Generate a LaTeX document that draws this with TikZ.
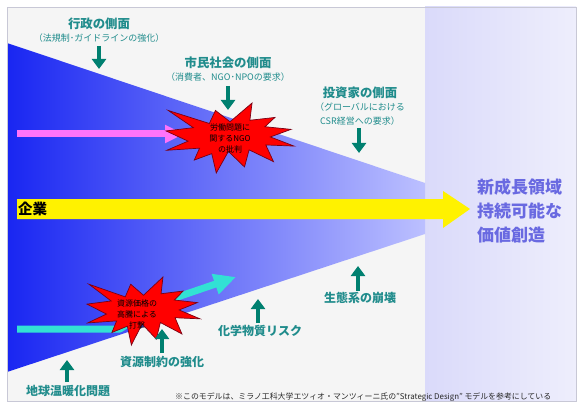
\documentclass[tikz,border=0pt]{standalone}
\usepackage{fontspec}
\setmainfont{Noto Sans CJK JP}
\usetikzlibrary{arrows.meta}
\definecolor{bggray}{RGB}{245,245,245}
\definecolor{lavL}{RGB}{218,218,250}
\definecolor{lavR}{RGB}{238,238,252}
\definecolor{wedgeL}{RGB}{25,38,242}
\definecolor{wedgeR}{RGB}{188,192,255}
\definecolor{framecol}{RGB}{200,200,214}
\definecolor{tealarr}{RGB}{0,128,112}
\definecolor{tealtxt}{RGB}{32,140,140}
\definecolor{pinkarr}{RGB}{255,115,250}
\definecolor{cyanarr}{RGB}{50,225,212}
\definecolor{starred}{RGB}{255,0,0}
\definecolor{stardark}{RGB}{120,0,20}
\definecolor{goaltxt}{RGB}{105,105,225}
\definecolor{notetxt}{RGB}{40,40,40}
\newcommand{\explosionpath}{(50.0,26.85) -- (67.23,0) -- (65.53,24.65) -- (85.09,20.63) -- (77.32,33.87) -- (97.67,37.67) -- (81.51,48.50) -- (100,61.53) -- (77.95,59.92) -- (84.00,83.77) -- (64.91,66.93) -- (61.33,91.38) -- (48.76,69.14) -- (39.28,100) -- (35.72,72.35) -- (22.05,81.56) -- (26.24,64.52) -- (0.63,67.53) -- (17.23,54.51) -- (0,39.88) -- (21.42,35.26) -- (1.71,10.63) -- (33.85,29.26) -- (38.67,10.63) -- cycle}
\begin{document}
\begin{tikzpicture}[x=1pt,y=-1pt,
  headlbl/.style={text=tealtxt, font=\fontsize{12.4}{14}\selectfont\bfseries, inner sep=0pt},
  sublbl/.style={text=tealtxt, font=\fontsize{9}{14}\selectfont, inner sep=0pt, align=center},
  botlbl/.style={text=tealtxt, font=\fontsize{12}{14}\selectfont\bfseries, inner sep=0pt},
  tealarrow/.style={draw=tealarr, line width=4pt, -{Triangle[width=14pt,length=10pt]}},
  startext/.style={text=black, font=\fontsize{8}{11}\selectfont, inner sep=0pt, align=center},
  starshape/.style={fill=starred, draw=stardark, line width=0.7pt, line join=miter}
]
\useasboundingbox (0,0) rectangle (580,406);
\fill[white] (0,0) rectangle (580,406);
% backgrounds
\fill[bggray] (7,7) rectangle (425,401);
\shade[left color=lavL, right color=lavR] (425,7) rectangle (576,401);
\shade[left color=wedgeL, right color=wedgeR] (7,43) -- (425,183) -- (425,234) -- (7,372) -- cycle;
\draw[framecol, line width=0.8pt] (7,7) rectangle (576,401);

% yellow main arrow
\coordinate (ys) at (17,209);
\coordinate (ye) at (470,209);
\fill[yellow] (17,199) -- (443,199) -- (443,191) -- (ye) -- (443,228) -- (443,219) -- (17,219) -- cycle;
\node[font=\fontsize{14.5}{16}\selectfont\bfseries, text=black, anchor=west, inner sep=0pt] (kigyo) at (18,209) {企業};

% pink arrow
\coordinate (ps) at (17,134);
\coordinate (pe) at (184,134);
\draw[pinkarr, line width=7pt, -{Triangle[width=17pt,length=19pt]}] (ps) -- (pe);

% cyan arrow
\coordinate (cs) at (17,329);
\coordinate (cb) at (120,329);
\coordinate (cm) at (160,303);
\coordinate (ce) at (236,277);
\draw[cyanarr, line width=7pt, line join=round, -{Triangle[width=20pt,length=22pt]}] (cs) -- (cb) -- (cm) -- (ce);

% star 1
\begin{scope}[shift={(166,103)}, xscale=1.28, yscale=0.70]
  \draw[starshape] \explosionpath;
\end{scope}
\node[startext] (star1) at (230,138) {労働問題に\\関するNGO\\の批判};

% star 2
\begin{scope}[shift={(87,277)}, xscale=1.13, yscale=0.68]
  \draw[starshape] \explosionpath;
\end{scope}
\node[startext] (star2) at (137,314) {資源価格の\\高騰による\\打撃};

% top labels
\node[headlbl] (gyosei) at (99,24) {行政の側面};
\node[sublbl] (gyoseis) at (99,38) {（法規制･ガイドラインの強化）};
\coordinate (a1s) at (99,46);
\coordinate (a1e) at (99,69);
\draw[tealarrow] (a1s) -- (a1e);

\node[headlbl] (shimin) at (228,63) {市民社会の側面};
\node[sublbl] (shimins) at (228,77) {（消費者、NGO･NPOの要求）};
\coordinate (a2s) at (228,86);
\coordinate (a2e) at (228,110);
\draw[tealarrow] (a2s) -- (a2e);

\node[headlbl] (toshi) at (360,93) {投資家の側面};
\node[sublbl] (toshis) at (360,114) {（グローバルにおける\\CSR経営への要求）};
\coordinate (a3s) at (359,128);
\coordinate (a3e) at (359,153);
\draw[tealarrow] (a3s) -- (a3e);

% bottom labels
\node[botlbl] (ondan) at (68,391) {地球温暖化問題};
\coordinate (b1s) at (67,382);
\coordinate (b1e) at (67,360);
\draw[tealarrow] (b1s) -- (b1e);

\node[botlbl] (shigen) at (162,362) {資源制約の強化};
\coordinate (b2s) at (162,353);
\coordinate (b2e) at (162,329);
\draw[tealarrow] (b2s) -- (b2e);

\node[botlbl] (kagaku) at (260,331) {化学物質リスク};
\coordinate (b3s) at (258,323);
\coordinate (b3e) at (258,299);
\draw[tealarrow] (b3s) -- (b3e);

\node[botlbl] (seitai) at (360,298) {生態系の崩壊};
\coordinate (b4s) at (358,291);
\coordinate (b4e) at (358,266);
\draw[tealarrow] (b4s) -- (b4e);

% goal text
\node[text=goaltxt, font=\fontsize{17}{24}\selectfont\bfseries, align=left, anchor=west, inner sep=0pt] (goal) at (477,211) {新成長領域\\持続可能な\\価値創造};

% footnote
\node[text=notetxt, font=\fontsize{7.9}{9}\selectfont, anchor=west, inner sep=0pt] (note) at (175,397) {※このモデルは、ミラノ工科大学エツィオ・マンツィーニ氏の"Strategic Design" モデルを参考にしている};
\end{tikzpicture}
\end{document}
